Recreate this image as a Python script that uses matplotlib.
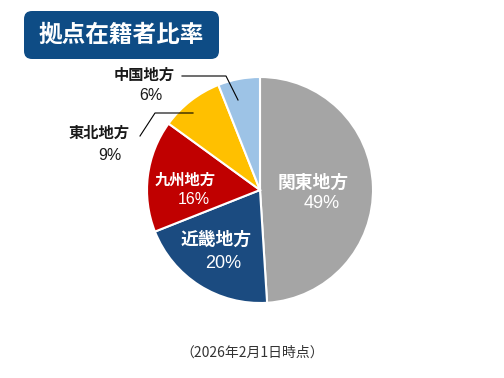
import matplotlib
matplotlib.use("Agg")
import matplotlib.pyplot as plt
from matplotlib.patches import FancyBboxPatch

plt.rcParams['font.family'] = ['Noto Sans CJK JP', 'DejaVu Sans']

categories = ['関東地方', '近畿地方', '九州地方', '東北地方', '中国地方']
values = [49, 20, 16, 9, 6]
colors = ['#A5A5A5', '#1B4B80', '#C00000', '#FFC000', '#9DC3E6']
title = '拠点在籍者比率'
note = '（2026年2月1日時点）'

W, H = 504, 378
fig = plt.figure(figsize=(5.04, 3.78), dpi=100)
ax = fig.add_axes([0, 0, 1, 1])

def Y(py):
    return H - py

cx, cy, r = 260, Y(190), 113
ax.pie(values, colors=colors, startangle=90, counterclock=False,
       center=(cx, cy), radius=r, frame=True,
       wedgeprops=dict(edgecolor='white', linewidth=1.5))
ax.set_xlim(0, W)
ax.set_ylim(0, H)
ax.set_aspect('equal')
ax.axis('off')

# title box
box = FancyBboxPatch((24, Y(59)), 195, 48, boxstyle='round,pad=0,rounding_size=8',
                     facecolor='#0E4C85', edgecolor='none')
ax.add_patch(box)
ax.text(121, Y(35), title, color='white', fontsize=17, fontweight='bold',
        ha='center', va='center')

# labels
lab = [
    (categories[0], values[0], 313, 183, 322, 204, 'white', 12.8, 13),
    (categories[1], values[1], 216, 240, 223, 264, 'white', 12.8, 13),
    (categories[2], values[2], 185, 180, 194, 200, 'white', 11, 11.5),
    (categories[3], values[3], 99, 133, 110, 155, '#1a1a1a', 11, 11.5),
    (categories[4], values[4], 144, 75, 151, 96, '#1a1a1a', 11, 11.5),
]
for name, v, x1, y1, x2, y2, c, fs, fs2 in lab:
    ax.text(x1, Y(y1), name, color=c, fontsize=fs, fontweight='bold',
            ha='center', va='center')
    ax.text(x2, Y(y2), f'{v}%', color=c, fontsize=fs2, family='Liberation Sans',
            ha='center', va='center')

# leader lines
ax.plot([182, 226, 238], [Y(76), Y(76), Y(100)], color='black', lw=0.8)
ax.plot([140, 155, 193], [Y(136), Y(113), Y(113)], color='black', lw=0.8)

ax.text(252, Y(353), note, color='#333333', fontsize=10, ha='center', va='center')

fig.savefig('out.png', dpi=100)
